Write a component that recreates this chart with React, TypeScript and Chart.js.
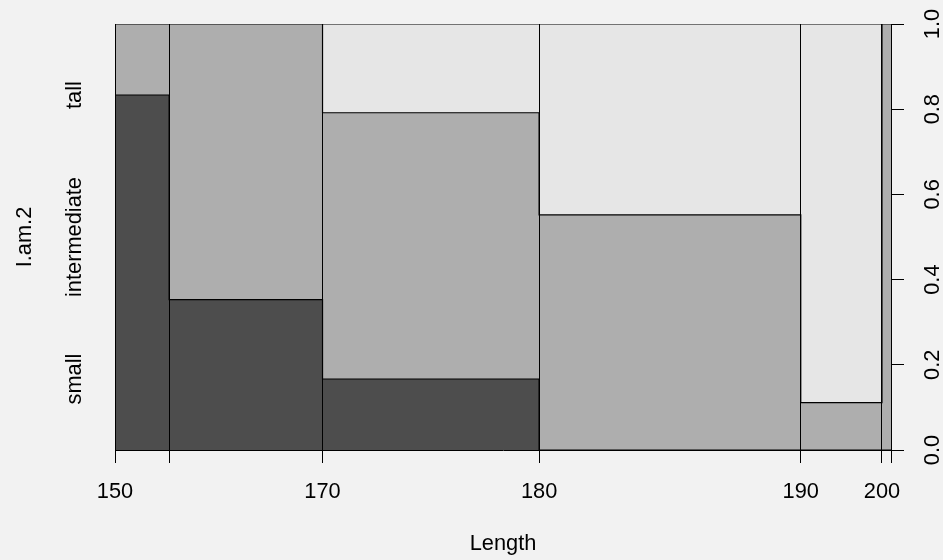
import React, { useEffect, useRef } from 'react';
import { Chart, registerables } from 'chart.js';
Chart.register(...registerables);

// Spineplot of I.am.2 by Length
const categories = ['small', 'intermediate', 'tall'];
const binCountsSmall = [5, 6, 4, 0, 0, 0];
const binCountsIntermediate = [1, 11, 15, 16, 1, 1];
const binCountsTall = [0, 0, 5, 13, 8, 0];
const breakLabels = ['150', '', '170', '180', '190', '200', ''];
const rightTicks = [0, 0.2, 0.4, 0.6, 0.8, 1.0];
const fillColors = ['#4D4D4D', '#AEAEAE', '#E6E6E6'];
const xTitle = 'Length';
const yTitle = 'I.am.2';

const FS = 21.8;
const FONT = 'Liberation Sans';

export default function App() {
  const ref = useRef<HTMLCanvasElement | null>(null);

  useEffect(() => {
    if (!ref.current) return;
    const binTotals = binCountsSmall.map(
      (s, i) => s + binCountsIntermediate[i] + binCountsTall[i]
    );
    const n = binTotals.reduce((a, b) => a + b, 0);
    const boundaries: number[] = [0];
    binTotals.forEach((t) => boundaries.push(boundaries[boundaries.length - 1] + t / n));
    boundaries[boundaries.length - 1] = 1;

    const cumSmall = binTotals.map((t, i) => binCountsSmall[i] / t);
    const cumInter = binTotals.map(
      (t, i) => (binCountsSmall[i] + binCountsIntermediate[i]) / t
    );
    const cumTall = binTotals.map(() => 1);

    const step = (vals: number[]) =>
      boundaries.map((b, k) => ({ x: b, y: vals[Math.min(k, vals.length - 1)] }));

    const leftTickPos = categories.map((_, i) => (i + 0.5) / categories.length);

    const mk = (label: string, vals: number[], color: string, order: number) => ({
      label,
      data: step(vals),
      stepped: true as const,
      backgroundColor: color,
      borderColor: '#000000',
      borderWidth: 1.2,
      pointRadius: 0,
      fill: 'origin',
      order,
      tension: 0,
    });

    const chart = new Chart(ref.current, {
      type: 'line',
      data: {
        datasets: [
          mk(categories[0], cumSmall, fillColors[0], 0),
          mk(categories[1], cumInter, fillColors[1], 1),
          mk(categories[2], cumTall, fillColors[2], 2),
        ] as any,
      },
      options: {
        animation: false,
        responsive: false,
        devicePixelRatio: 1,
        layout: { padding: { top: 24, left: 0, right: 0, bottom: 0 } },
        plugins: {
          legend: { display: false },
          tooltip: { enabled: false },
        },
        font: { family: FONT, size: FS },
        scales: {
          x: {
            type: 'linear',
            position: 'bottom',
            min: 0,
            max: 1,
            afterBuildTicks: (s: any) => {
              s.ticks = boundaries.map((v) => ({ value: v }));
            },
            afterFit: (s: any) => {
              s.height = 110;
              s.paddingLeft = 0;
              s.paddingRight = 0;
            },
            ticks: {
              autoSkip: false,
              maxRotation: 0,
              minRotation: 0,
              padding: 15.5,
              color: '#000000',
              font: { family: FONT, size: FS },
              callback: (_v: any, i: number) => breakLabels[i] ?? '',
            },
            grid: {
              display: true,
              drawOnChartArea: true,
              drawTicks: true,
              tickLength: 13,
              color: '#000000',
              lineWidth: 1,
              z: 1,
            },
            border: { display: true, color: '#000000', width: 1, z: 1 },
            title: {
              display: true,
              text: xTitle,
              color: '#000000',
              font: { family: FONT, size: FS },
              padding: { top: 0, bottom: 3 },
            },
          },
          y: {
            type: 'linear',
            position: 'right',
            min: 0,
            max: 1,
            afterBuildTicks: (s: any) => {
              s.ticks = rightTicks.map((v) => ({ value: v }));
            },
            afterFit: (s: any) => {
              s.width = 52;
              s.paddingTop = 0;
              s.paddingBottom = 0;
            },
            ticks: {
              autoSkip: false,
              minRotation: 90,
              maxRotation: 90,
              crossAlign: 'center',
              padding: 13.5,
              color: '#000000',
              font: { family: FONT, size: FS },
              callback: (v: any) => Number(v).toFixed(1),
            },
            grid: {
              display: true,
              drawOnChartArea: false,
              drawTicks: true,
              tickLength: 13,
              color: '#000000',
              lineWidth: 1,
            },
            border: { display: true, color: '#000000', width: 1 },
          },
          yl: {
            type: 'linear',
            position: 'left',
            min: 0,
            max: 1,
            afterBuildTicks: (s: any) => {
              s.ticks = leftTickPos.map((v) => ({ value: v }));
            },
            afterFit: (s: any) => {
              s.width = 115;
              s.paddingTop = 0;
              s.paddingBottom = 0;
            },
            ticks: {
              autoSkip: false,
              minRotation: 90,
              maxRotation: 90,
              crossAlign: 'center',
              padding: -20,
              color: '#000000',
              font: { family: FONT, size: FS },
              callback: (_v: any, i: number) => categories[i] ?? '',
            },
            grid: { display: false, drawTicks: false, drawOnChartArea: false },
            border: { display: false },
            title: {
              display: true,
              text: yTitle,
              color: '#000000',
              font: { family: FONT, size: FS },
              padding: { top: 11.5, bottom: 0 },
            },
          },
        },
      } as any,
    });
    return () => chart.destroy();
  }, []);

  return (
    <div style={{ position: 'fixed', left: 0, top: 0, width: 943, height: 560, background: '#F2F2F2' }}>
      <canvas ref={ref} width={943} height={560} style={{ display: 'block', width: 943, height: 560 }} />
    </div>
  );
}
